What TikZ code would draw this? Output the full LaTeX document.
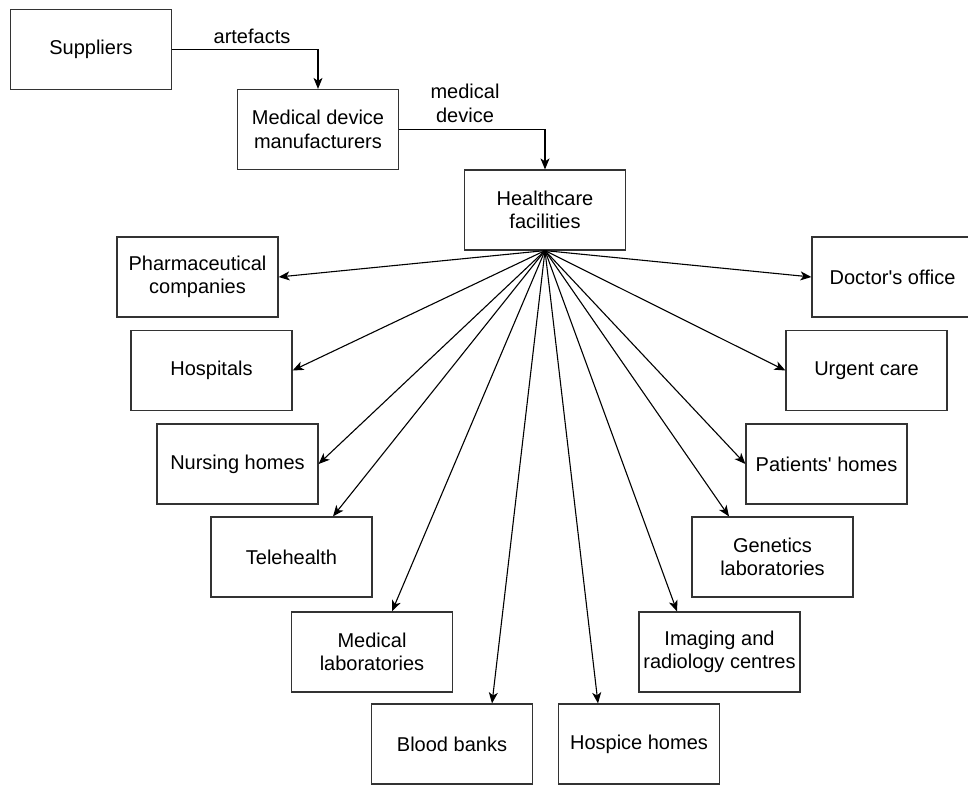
\documentclass[tikz,border=0pt]{standalone}
\usepackage{fontspec}
\setmainfont{Liberation Sans}[Ligatures=TeXOff]
\usetikzlibrary{arrows.meta}

\tikzset{
  box/.style={draw=black!80, line width=1.2pt, minimum width=161pt, minimum height=80pt,
    align=center, inner sep=0pt, font=\fontsize{20}{23.5}\selectfont},
  lbl/.style={align=center, inner sep=0pt, font=\fontsize{20}{23.5}\selectfont},
  arr/.style={draw=black, line width=1.1pt, -{Stealth[length=11pt,width=9pt,inset=3pt]}},
}

\begin{document}
\begin{tikzpicture}[x=1pt, y=-1pt]
  \useasboundingbox (0,0) rectangle (968,785);
  \begin{scope}
  \clip (0,0) rectangle (968,785);

  % supply chain at the top
  \node[box] (sup) at (91,49.5) {Suppliers};
  \node[box] (mdm) at (318,129.5) {Medical device\\manufacturers};
  \node[box] (hf)  at (545,210) {Healthcare\\facilities};

  % facilities fanning out below
  \node[box] (pharma)   at (197.5,277) {Pharmaceutical\\companies};
  \node[box] (hosp)     at (211.5,370.5) {Hospitals};
  \node[box] (nurs)     at (237.5,464) {Nursing homes};
  \node[box] (tele)     at (291.5,557) {Telehealth};
  \node[box] (medlab)   at (372,652) {Medical\\laboratories};
  \node[box] (blood)    at (452,744) {Blood banks};
  \node[box] (hospice)  at (639,744) {Hospice homes};
  \node[box] (imaging)  at (719.5,652) {Imaging and\\radiology centres};
  \node[box] (genetics) at (772.5,557) {Genetics\\laboratories};
  \node[box] (patients) at (826.5,464) {Patients' homes};
  \node[box] (urgent)   at (866.5,370.5) {Urgent care};
  \node[box] (doctor)   at (892.5,277) {Doctor's office};

  % edge labels
  \node[lbl] (lart) at (252,36) {artefacts};
  \node[lbl] (lmed) at (465,103.5) {medical\\device};

  % flow of goods
  \draw[arr] (sup.east) -| (mdm.north);
  \draw[arr] (mdm.east) -| (hf.north);

  % distribution from healthcare facilities
  \draw[arr] (hf.south) -- (pharma.east);
  \draw[arr] (hf.south) -- (hosp.east);
  \draw[arr] (hf.south) -- (nurs.east);
  \draw[arr] (hf.south) -- ([xshift=41.5]tele.north);
  \draw[arr] (hf.south) -- ([xshift=20]medlab.north);
  \draw[arr] (hf.south) -- ([xshift=40]blood.north);
  \draw[arr] (hf.south) -- ([xshift=-41]hospice.north);
  \draw[arr] (hf.south) -- ([xshift=-42.5]imaging.north);
  \draw[arr] (hf.south) -- ([xshift=-43.5]genetics.north);
  \draw[arr] (hf.south) -- (patients.west);
  \draw[arr] (hf.south) -- (urgent.west);
  \draw[arr] (hf.south) -- (doctor.west);
  \end{scope}
\end{tikzpicture}
\end{document}
